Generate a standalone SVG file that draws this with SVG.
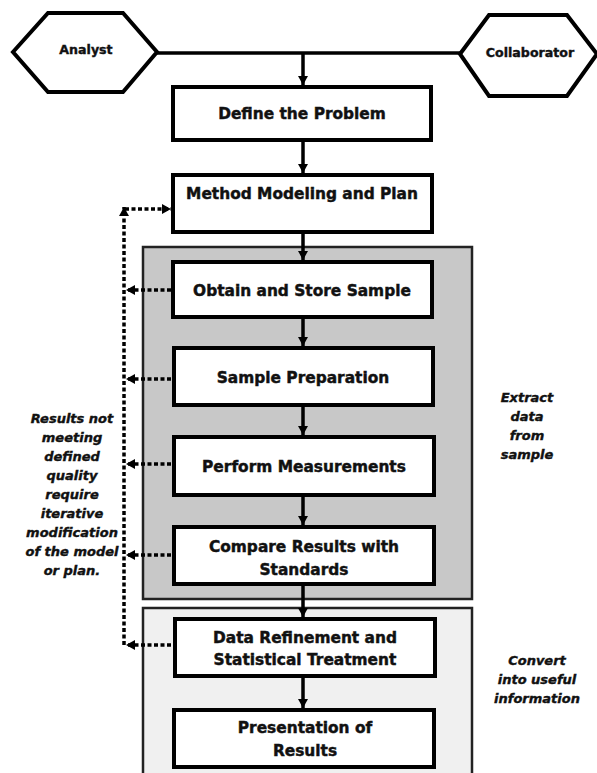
<svg xmlns="http://www.w3.org/2000/svg" width="597" height="773" viewBox="0 0 597 773">
<style>
.box{fill:#fff;stroke:#000;stroke-width:4}
.hex{fill:#fff;stroke:#000;stroke-width:4;stroke-linejoin:miter}
.lbl{font-family:"DejaVu Sans","Liberation Sans",sans-serif;font-weight:bold;font-size:15.4px;fill:#111;stroke:#111;stroke-width:0.45;text-anchor:middle}
.hl{font-family:"DejaVu Sans","Liberation Sans",sans-serif;font-weight:bold;font-size:12.6px;fill:#111;stroke:#111;stroke-width:0.4;text-anchor:middle}
.note{font-family:"DejaVu Sans","Liberation Sans",sans-serif;font-weight:bold;font-style:italic;font-size:13px;fill:#111;stroke:#111;stroke-width:0.4;text-anchor:middle}
.solid{fill:none;stroke:#000;stroke-width:3.5}
.dash{fill:none;stroke:#000;stroke-width:3.5;stroke-dasharray:4 2.5}
</style>
<defs>
<marker id="ah" markerUnits="userSpaceOnUse" markerWidth="12" markerHeight="12" refX="9" refY="5" orient="auto">
<path d="M0,0 L9,5 L0,10 z" fill="#000"/>
</marker>
</defs>
<g id="panels">
<rect id="panel-extract" x="143" y="247" width="329" height="352" fill="#c8c8c8" stroke="#222" stroke-width="2.5"/>
<rect id="panel-convert" x="143" y="608" width="329" height="175" fill="#f0f0f0" stroke="#222" stroke-width="2.5"/>
</g>
<g id="connectors">
<path class="solid" d="M157,53 L460,53"/>
<path class="solid" d="M303,53 L303,85" marker-end="url(#ah)"/>
<path class="solid" d="M303,140 L303,173" marker-end="url(#ah)"/>
<path class="solid" d="M303,232 L303,260" marker-end="url(#ah)"/>
<path class="solid" d="M303,317 L303,346" marker-end="url(#ah)"/>
<path class="solid" d="M303,405 L303,435" marker-end="url(#ah)"/>
<path class="solid" d="M303,495 L303,525" marker-end="url(#ah)"/>
<path class="solid" d="M303,584 L303,617" marker-end="url(#ah)"/>
<path class="solid" d="M303,676 L303,708" marker-end="url(#ah)"/>
<path class="dash" d="M124,645 L124,207" marker-end="url(#ah)"/>
<path class="dash" d="M125,209 L171,209" marker-end="url(#ah)"/>
<path class="dash" d="M171,290 L126,290" marker-end="url(#ah)"/>
<path class="dash" d="M171,379 L126,379" marker-end="url(#ah)"/>
<path class="dash" d="M171,464 L126,464" marker-end="url(#ah)"/>
<path class="dash" d="M171,555 L126,555" marker-end="url(#ah)"/>
<path class="dash" d="M171,645 L126,645" marker-end="url(#ah)"/>
</g>
<g id="analyst">
<polygon class="hex" points="13,52 48,13 123,13 157,52 123,92 48,92"/>
<text class="hl" x="86" y="54">Analyst</text>
</g>
<g id="collaborator">
<polygon class="hex" points="460,54 489,15 567,15 597,54 567,96 489,96"/>
<text class="hl" x="530" y="57">Collaborator</text>
</g>
<g id="define">
<rect class="box" x="173" y="87" width="258" height="53"/>
<text class="lbl" x="302" y="119">Define the Problem</text>
</g>
<g id="method">
<rect class="box" x="173" y="175" width="259" height="57"/>
<text class="lbl" x="302" y="199">Method Modeling and Plan</text>
</g>
<g id="obtain">
<rect class="box" x="173" y="262" width="259" height="55"/>
<text class="lbl" x="302" y="296">Obtain and Store Sample</text>
</g>
<g id="prep">
<rect class="box" x="174" y="348" width="259" height="57"/>
<text class="lbl" x="303" y="383">Sample Preparation</text>
</g>
<g id="measure">
<rect class="box" x="174" y="437" width="260" height="58"/>
<text class="lbl" x="304" y="472">Perform Measurements</text>
</g>
<g id="compare">
<rect class="box" x="174" y="527" width="260" height="57"/>
<text class="lbl" x="304" y="552">Compare Results with</text>
<text class="lbl" x="304" y="575">Standards</text>
</g>
<g id="refine">
<rect class="box" x="175" y="619" width="260" height="57"/>
<text class="lbl" x="305" y="643">Data Refinement and</text>
<text class="lbl" x="305" y="665">Statistical Treatment</text>
</g>
<g id="present">
<rect class="box" x="174" y="710" width="260" height="57"/>
<text class="lbl" x="305" y="733">Presentation of</text>
<text class="lbl" x="305" y="756">Results</text>
</g>
<g id="note-left">
<text class="note" x="72" y="423">Results not</text>
<text class="note" x="72" y="442">meeting</text>
<text class="note" x="72" y="461">defined</text>
<text class="note" x="72" y="480">quality</text>
<text class="note" x="72" y="499">require</text>
<text class="note" x="72" y="518">iterative</text>
<text class="note" x="72" y="537">modification</text>
<text class="note" x="72" y="556">of the model</text>
<text class="note" x="72" y="575">or plan.</text>
</g>
<g id="note-extract">
<text class="note" x="527" y="402">Extract</text>
<text class="note" x="527" y="421">data</text>
<text class="note" x="527" y="440">from</text>
<text class="note" x="527" y="459">sample</text>
</g>
<g id="note-convert">
<text class="note" x="537" y="665">Convert</text>
<text class="note" x="537" y="684">into useful</text>
<text class="note" x="537" y="703">information</text>
</g>
</svg>
